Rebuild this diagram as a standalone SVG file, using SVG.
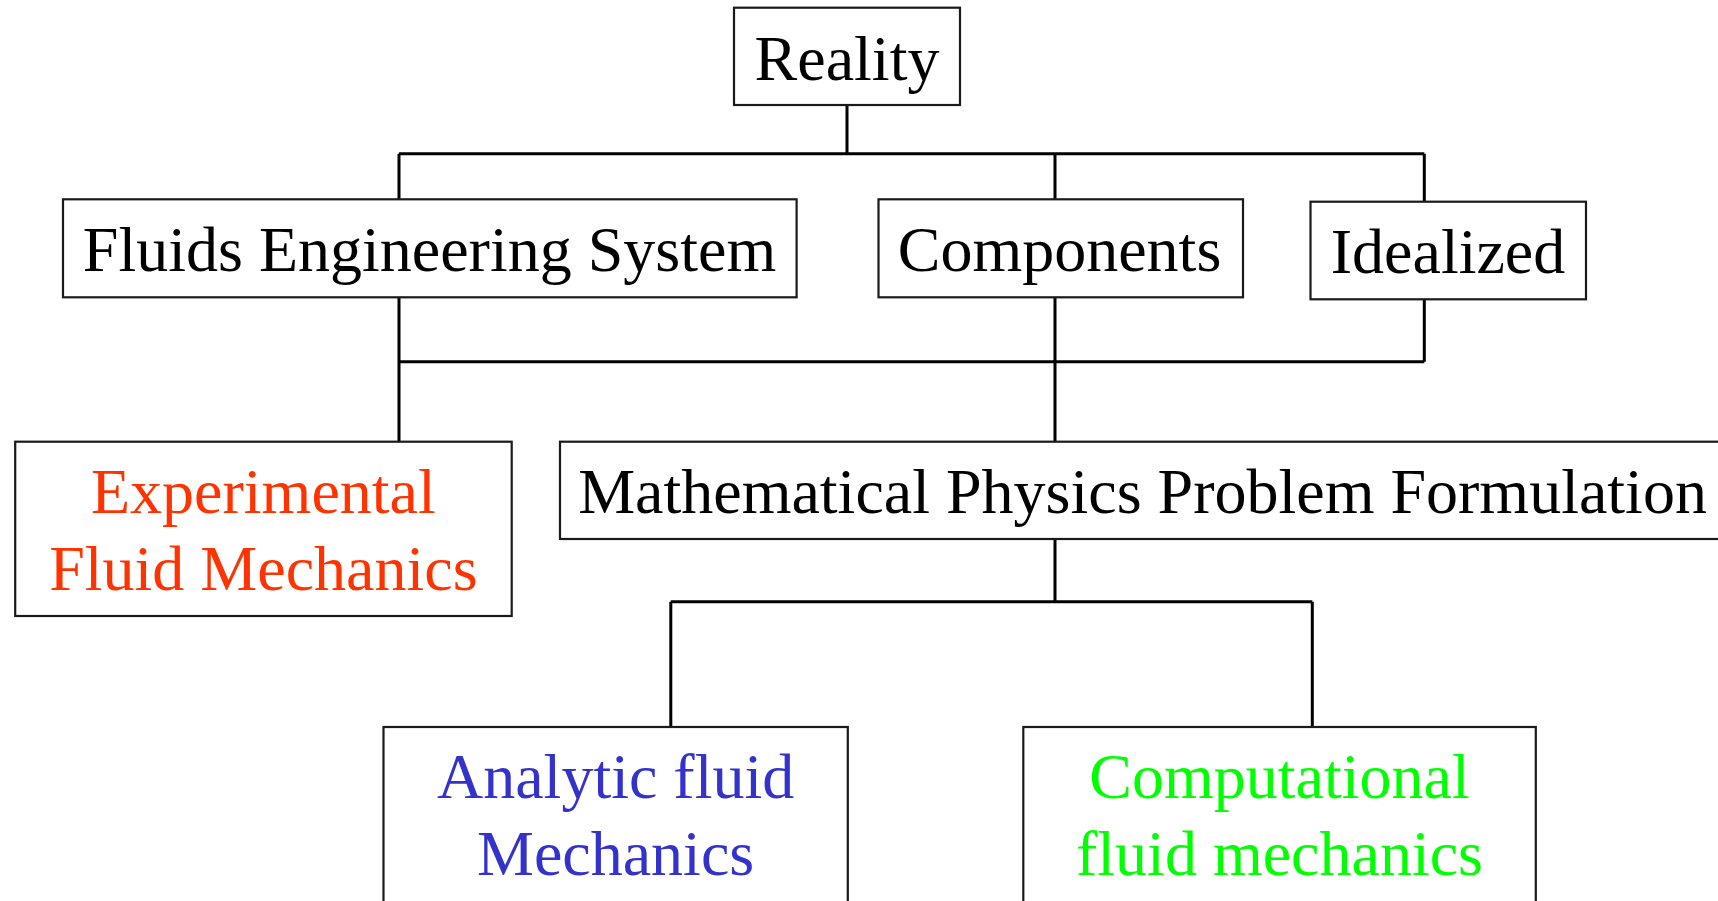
<svg xmlns="http://www.w3.org/2000/svg" width="1718" height="901" viewBox="0 0 1718 901">
<style>
.box{fill:#fff;stroke:#1a1a1a;stroke-width:2.2}
.t{font-family:"Liberation Serif","Times New Roman",serif;font-size:64px;text-anchor:middle;fill:#000}
.conn{fill:none;stroke:#000;stroke-width:3}
</style>
<rect width="1718" height="901" fill="#fff"/>
<g id="connectors">
<path class="conn" d="M847 105V153.7M399 153.7H1424.3M399 153.7V199.3M1055 153.7V199.3M1424.3 153.7V201.7"/>
<path class="conn" d="M399 297.3V361.7M1055 297.3V361.7M1424.3 299.3V361.7M399 361.7H1424.3M399 361.7V441.7M1055 361.7V441.7"/>
<path class="conn" d="M1055 539V601.7M670.8 601.7H1312.3M670.8 601.7V727M1312.3 601.7V727"/>
</g>
<g id="reality">
<rect class="box" x="734" y="7.7" width="226" height="97.3"/>
<text class="t" x="847" y="80">Reality</text>
</g>
<g id="fluids-engineering-system">
<rect class="box" x="63" y="199.3" width="733.6" height="98"/>
<text class="t" x="429.5" y="270.7">Fluids Engineering System</text>
</g>
<g id="components">
<rect class="box" x="878.5" y="199.3" width="364.5" height="98"/>
<text class="t" x="1059.5" y="270.7">Components</text>
</g>
<g id="idealized">
<rect class="box" x="1310.5" y="201.7" width="275.5" height="97.6"/>
<text class="t" x="1448" y="272.7">Idealized</text>
</g>
<g id="experimental">
<rect class="box" x="15.2" y="441.7" width="496.5" height="174.3"/>
<text class="t" x="263.4" y="513" fill="#FF3300" style="fill:#FF3300">Experimental</text>
<text class="t" x="263.4" y="589.5" style="fill:#FF3300">Fluid Mechanics</text>
</g>
<g id="math-physics">
<rect class="box" x="560" y="441.7" width="1170" height="97.3"/>
<text class="t" x="1142.5" y="513">Mathematical Physics Problem Formulation</text>
</g>
<g id="analytic">
<rect class="box" x="383.5" y="727" width="464.3" height="200"/>
<text class="t" x="615.6" y="798.3" style="fill:#3333CC">Analytic fluid</text>
<text class="t" x="615.6" y="875" style="fill:#3333CC">Mechanics</text>
</g>
<g id="computational">
<rect class="box" x="1023.3" y="727" width="512.5" height="200"/>
<text class="t" x="1279.5" y="798.3" style="fill:#00FF00">Computational</text>
<text class="t" x="1279.5" y="875" style="fill:#00FF00">fluid mechanics</text>
</g>
</svg>
